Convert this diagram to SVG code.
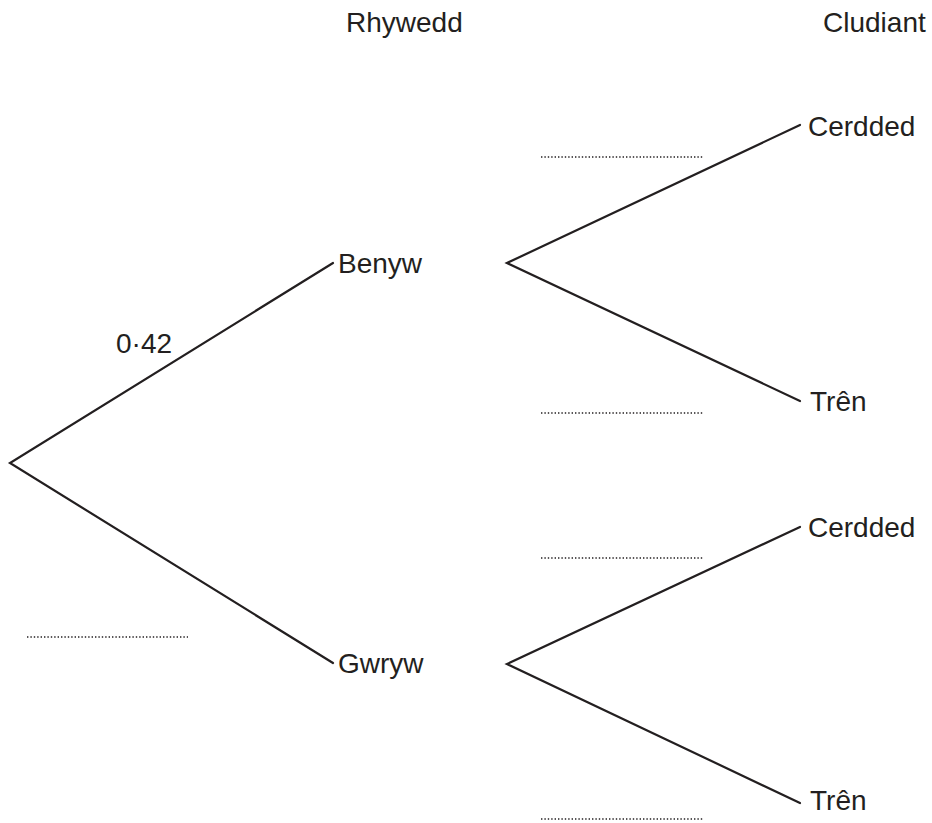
<svg xmlns="http://www.w3.org/2000/svg" width="932" height="823" viewBox="0 0 932 823">
<style>
.t{font-family:"Liberation Sans",Arial,Helvetica,sans-serif;font-size:28px;fill:#231f20}
.br{stroke:#231f20;stroke-width:2.2;fill:none;stroke-linecap:round}
.dot{stroke:#231f20;stroke-width:1.4;stroke-dasharray:1.4 2;fill:none}
</style>
<rect width="932" height="823" fill="#ffffff"/>
<g id="headers">
<text class="t" x="346" y="32">Rhywedd</text>
<text class="t" x="823" y="32">Cludiant</text>
</g>
<g id="connectors">
<path class="br" d="M333,263 L10,463 L333,663"/>
<path class="br" d="M800,125 L507,263 L800,401"/>
<path class="br" d="M800,527 L507,664 L800,803"/>
</g>
<g id="probabilities">
<text class="t" x="116" y="353">0·42</text>
<line class="dot" x1="27" y1="637" x2="188" y2="637"/>
<line class="dot" x1="541" y1="157" x2="703" y2="157"/>
<line class="dot" x1="541" y1="413" x2="703" y2="413"/>
<line class="dot" x1="541" y1="558" x2="703" y2="558"/>
<line class="dot" x1="541" y1="819" x2="703" y2="819"/>
</g>
<g id="node-benyw"><text class="t" x="338" y="273">Benyw</text></g>
<g id="node-gwryw"><text class="t" x="338" y="673">Gwryw</text></g>
<g id="node-benyw-cerdded"><text class="t" x="808" y="136">Cerdded</text></g>
<g id="node-benyw-tren"><text class="t" x="810" y="411">Trên</text></g>
<g id="node-gwryw-cerdded"><text class="t" x="808" y="537">Cerdded</text></g>
<g id="node-gwryw-tren"><text class="t" x="810" y="810">Trên</text></g>
</svg>
